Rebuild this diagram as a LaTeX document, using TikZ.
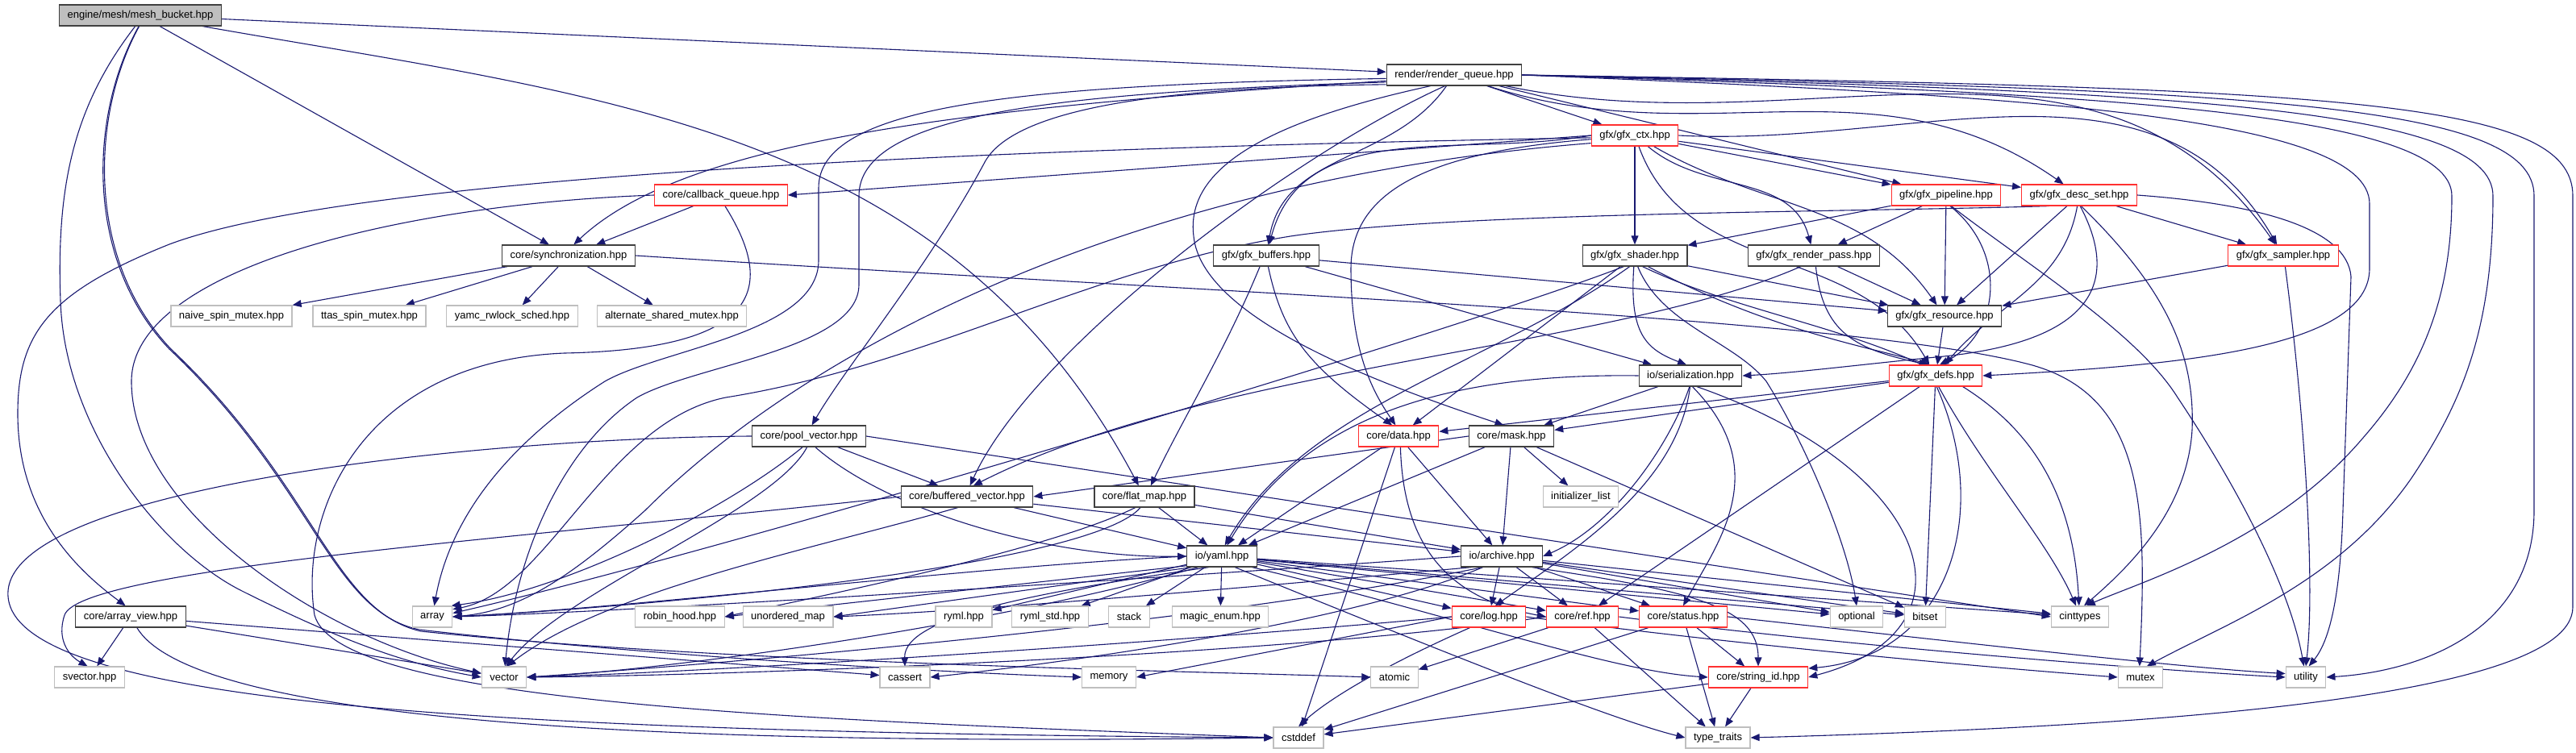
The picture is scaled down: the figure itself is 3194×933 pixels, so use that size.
\documentclass[tikz,border=0pt]{standalone}
\usepackage{fontspec}
\setmainfont{Liberation Sans}
\usetikzlibrary{arrows.meta,backgrounds}
\definecolor{edgec}{HTML}{191970}
\definecolor{bordg}{HTML}{BFBFBF}
\definecolor{bordr}{HTML}{FF3030}
\definecolor{bordk}{HTML}{404040}
\definecolor{fillg}{HTML}{BFBFBF}
\begin{document}
\begin{tikzpicture}[x=0.5pt,y=0.5pt,font=\fontsize{6.5}{7.5}\selectfont,
  box/.style={draw,fill=white,inner xsep=5pt,inner ysep=0pt,minimum height=13pt,line width=0.6pt},
  nk/.style={box,draw=bordk},
  nr/.style={box,draw=bordr},
  ng/.style={box,draw=bordg},
  e/.style={draw=edgec,line width=0.55pt,-{Triangle[length=5.5pt,width=4.4pt]}}]
\useasboundingbox (0,0) rectangle (3194,933);
% nodes
\node[nk,fill=fillg] (MB) at (174,914) {engine/mesh/mesh\_bucket.hpp};
\node[nk] (RQ) at (1803,840) {render/render\_queue.hpp};
\node[nr] (CTX) at (2027,765) {gfx/gfx\_ctx.hpp};
\node[nr] (CBQ) at (894,691) {core/callback\_queue.hpp};
\node[nr] (PIPE) at (2413,691) {gfx/gfx\_pipeline.hpp};
\node[nr] (DESC) at (2578,691) {gfx/gfx\_desc\_set.hpp};
\node[nk] (SYNC) at (705,616) {core/synchronization.hpp};
\node[nk] (BUF) at (1570,616) {gfx/gfx\_buffers.hpp};
\node[nk] (SHAD) at (2027,616) {gfx/gfx\_shader.hpp};
\node[nk] (RP) at (2249,616) {gfx/gfx\_render\_pass.hpp};
\node[nr] (SAMP) at (2831,616) {gfx/gfx\_sampler.hpp};
\node[ng] (NAIVE) at (287,541) {naive\_spin\_mutex.hpp};
\node[ng] (TTAS) at (458,541) {ttas\_spin\_mutex.hpp};
\node[ng] (YAMC) at (635,541) {yamc\_rwlock\_sched.hpp};
\node[ng] (ALT) at (833,541) {alternate\_shared\_mutex.hpp};
\node[nk] (RES) at (2411,541) {gfx/gfx\_resource.hpp};
\node[nk] (SER) at (2096,467) {io/serialization.hpp};
\node[nr] (DEFS) at (2400,467) {gfx/gfx\_defs.hpp};
\node[nk] (POOL) at (1003,392) {core/pool\_vector.hpp};
\node[nr] (DATA) at (1734,392) {core/data.hpp};
\node[nk] (MASK) at (1874,392) {core/mask.hpp};
\node[nk] (BV) at (1199,317) {core/buffered\_vector.hpp};
\node[nk] (FM) at (1419,317) {core/flat\_map.hpp};
\node[ng] (IL) at (1960,317) {initializer\_list};
\node[nk] (YAML) at (1515,243) {io/yaml.hpp};
\node[nk] (ARCH) at (1862,243) {io/archive.hpp};
\node[nk] (AV) at (162,168) {core/array\_view.hpp};
\node[ng] (ARRAY) at (536,168) {array};
\node[ng] (RH) at (843,168) {robin\_hood.hpp};
\node[ng] (UM) at (977,168) {unordered\_map};
\node[ng] (RYML) at (1195,168) {ryml.hpp};
\node[ng] (RYMLSTD) at (1302,168) {ryml\_std.hpp};
\node[ng] (STACK) at (1400,168) {stack};
\node[ng] (MAGIC) at (1513,168) {magic\_enum.hpp};
\node[nr] (LOG) at (1846,168) {core/log.hpp};
\node[nr] (REF) at (1962,168) {core/ref.hpp};
\node[nr] (STATUS) at (2087,168) {core/status.hpp};
\node[ng] (OPT) at (2302,168) {optional};
\node[ng] (BITSET) at (2387,168) {bitset};
\node[ng] (CINT) at (2579,168) {cinttypes};
\node[ng] (SVEC) at (111,93) {svector.hpp};
\node[ng] (VEC) at (625,93) {vector};
\node[ng] (CASSERT) at (1122,93) {cassert};
\node[ng] (MEM) at (1375,93) {memory};
\node[ng] (ATOMIC) at (1729,93) {atomic};
\node[nr] (SID) at (2180,93) {core/string\_id.hpp};
\node[ng] (MUTEX) at (2654,93) {mutex};
\node[ng] (UTIL) at (2859,93) {utility};
\node[ng] (CSTDDEF) at (1610,18) {cstddef};
\node[ng] (TT) at (2130,18) {type\_traits};
\begin{scope}[on background layer]
% mesh_bucket
\draw[e] (MB) -- (RQ);
\draw[e] (MB) -- (SYNC);
\draw[e] (MB) to[out=-10,in=118] (FM);
\draw[e] (MB.245) .. controls (90,800) and (70,700) .. (75,560) .. controls (80,400) and (200,250) .. (300,200) .. controls (420,140) and (500,110) .. (VEC.west);
\draw[e] (MB.262) .. controls (110,790) and (105,610) .. (210,500) .. controls (390,330) and (410,175) .. (520,152) .. controls (800,120) and (1150,100) .. (MEM.west);
\draw[e] (MB.264) .. controls (112,790) and (107,610) .. (212,500) .. controls (392,330) and (412,175) .. (522,150) .. controls (900,110) and (1500,100) .. (ATOMIC.west);
% render_queue
\draw[e] (RQ) -- (CTX);
\draw[e] (RQ) -- (PIPE);
\draw[e] (RQ) to[out=-18,in=145] (DESC);
\draw[e] (RQ) to[out=-12,in=125] (SAMP);
\draw[e] (RQ) to[out=235,in=80] (BUF);
\draw[e] (RQ.185) .. controls (1200,800) and (850,760) .. (SYNC.65);
\draw[e] (RQ.188) .. controls (1400,825) and (1250,790) .. (1220,730) .. controls (1150,600) and (1050,480) .. (POOL.75);
\draw[e] (RQ.230) .. controls (1600,740) and (1280,500) .. (BV.75);
\draw[e] (RQ.183) .. controls (1250,828) and (1015,800) .. (1015,700) -- (1015,610) .. controls (1015,520) and (820,500) .. (750,460) .. controls (640,390) and (560,300) .. (ARRAY.80);
\draw[e] (RQ.186) .. controls (1300,818) and (1065,790) .. (1065,690) -- (1065,580) .. controls (1065,500) and (860,480) .. (790,440) .. controls (700,380) and (640,250) .. (VEC.85);
\draw[e] (RQ.205) .. controls (1560,780) and (1470,720) .. (1480,640) .. controls (1490,540) and (1700,460) .. (MASK.125);
\draw[e] (RQ.east) .. controls (2500,815) and (2938,790) .. (2938,680) -- (2938,600) .. controls (2938,500) and (2700,480) .. (DEFS.east);
\draw[e] (RQ.east) .. controls (2600,818) and (3040,795) .. (3040,690) .. controls (3040,560) and (3000,470) .. (2930,390) .. controls (2820,260) and (2650,210) .. (CINT.60);
\draw[e] (RQ.east) .. controls (2700,820) and (3091,800) .. (3091,690) .. controls (3091,520) and (3050,430) .. (2990,340) .. controls (2900,210) and (2760,160) .. (MUTEX.60);
\draw[e] (RQ.east) .. controls (2800,822) and (3142,805) .. (3142,690) -- (3142,300) .. controls (3142,150) and (3000,100) .. (UTIL.east);
\draw[e] (RQ.east) .. controls (2900,824) and (3190,810) .. (3190,690) -- (3190,180) .. controls (3190,60) and (2600,30) .. (TT.east);
% gfx_ctx
\draw[e] (CTX.west) -- (CBQ.east);
\draw[e] (CTX.183) .. controls (1300,750) and (450,720) .. (210,630) .. controls (60,570) and (22,520) .. (22,420) .. controls (22,300) and (90,230) .. (AV.115);
\draw[e] (CTX) -- (SHAD);
\draw[e] (CTX) to[out=-40,in=105] (RP);
\draw[e] (CTX) -- (PIPE);
\draw[e] (CTX) -- (DESC);
\draw[e] (CTX.east) to[out=-3,in=120] (SAMP);
\draw[e] (CTX.west) to[out=190,in=75] (BUF);
\draw[e] (CTX) to[out=-30,in=125] (RES);
\draw[e] (CTX) to[out=-70,in=120] (DEFS);
\draw[e] (CTX.185) .. controls (1780,745) and (1675,700) .. (1675,600) .. controls (1675,500) and (1700,450) .. (DATA.105);
\draw[e] (CTX.190) .. controls (1400,710) and (1000,500) .. (800,300) .. controls (700,210) and (640,175) .. (ARRAY.east);
% callback_queue
\draw[e] (CBQ) -- (SYNC);
\draw[e] (CBQ.west) .. controls (500,680) and (163,600) .. (163,460) .. controls (163,300) and (400,140) .. (VEC.170);
\draw[e] (CBQ.-70) .. controls (960,580) and (950,500) .. (700,495) .. controls (450,485) and (370,300) .. (390,170) .. controls (420,60) and (1000,40) .. (CSTDDEF.west);
% pipeline
\draw[e] (PIPE) -- (SHAD);
\draw[e] (PIPE) -- (RP);
\draw[e] (PIPE) -- (RES);
\draw[e] (PIPE.-70) .. controls (2490,620) and (2480,520) .. (DEFS.70);
\draw[e] (PIPE.-65) .. controls (2520,600) and (2650,520) .. (2700,440) .. controls (2780,320) and (2840,200) .. (UTIL.100);
% desc_set
\draw[e] (DESC) -- (SAMP);
\draw[e] (DESC) -- (RES);
\draw[e] (DESC) to[out=-100,in=50] (DEFS);
\draw[e] (DESC.-85) .. controls (2620,600) and (2620,510) .. (2400,490) .. controls (2300,480) and (2220,470) .. (SER.east);
\draw[e] (DESC.-80) .. controls (2680,580) and (2722,500) .. (2718,400) .. controls (2712,300) and (2640,230) .. (CINT.70);
\draw[e] (DESC.east) .. controls (2800,680) and (2910,650) .. (2915,590) -- (2905,300) .. controls (2902,200) and (2890,140) .. (UTIL.75);
\draw[e] (DESC.200) .. controls (2300,670) and (1800,670) .. (1600,640) .. controls (1350,600) and (1150,480) .. (900,440) .. controls (750,410) and (680,200) .. (ARRAY.20);
% synchronization
\draw[e] (SYNC) -- (NAIVE);
\draw[e] (SYNC) -- (TTAS);
\draw[e] (SYNC) -- (YAMC);
\draw[e] (SYNC) -- (ALT);
\draw[e] (SYNC.east) .. controls (1500,570) and (2300,540) .. (2520,480) .. controls (2660,440) and (2662,300) .. (MUTEX.95);
% buffers
\draw[e] (BUF) -- (RES);
\draw[e] (BUF) -- (SER);
\draw[e] (BUF.-80) .. controls (1590,520) and (1620,480) .. (DATA.120);
\draw[e] (BUF.-120) .. controls (1520,500) and (1470,420) .. (FM.60);
% shader
\draw[e] (SHAD) -- (RES);
\draw[e] (SHAD.-40) .. controls (2200,520) and (2330,500) .. (DEFS.120);
\draw[e] (SHAD.-95) .. controls (2020,520) and (2040,500) .. (SER.110);
\draw[e] (SHAD) -- (DATA);
\draw[e] (SHAD.-115) .. controls (1850,480) and (1620,430) .. (YAML.75);
\draw[e] (SHAD.-135) .. controls (1800,520) and (900,250) .. (ARRAY.10);
\draw[e] (SHAD.-75) .. controls (2060,530) and (2150,510) .. (2190,460) .. controls (2240,380) and (2290,260) .. (OPT.north);
\draw[e] (SHAD.-55) .. controls (2250,500) and (2560,520) .. (CINT.95);
% render_pass
\draw[e] (RP) -- (RES);
\draw[e] (RP.-80) .. controls (2260,520) and (2300,500) .. (DEFS.125);
\draw[e] (RP.-140) .. controls (2000,500) and (1500,480) .. (BV.60);
% sampler
\draw[e] (SAMP) -- (RES);
\draw[e] (SAMP.-80) .. controls (2860,400) and (2870,200) .. (UTIL.90);
% resource
\draw[e] (RES) -- (DEFS);
% serialization
\draw[e] (SER) -- (MASK);
\draw[e] (SER.west) .. controls (1800,470) and (1620,420) .. (YAML.65);
\draw[e] (SER.-95) .. controls (2070,380) and (2000,280) .. (ARCH.east);
\draw[e] (SER.-92) .. controls (2080,330) and (1950,250) .. (LOG.60);
\draw[e] (SER.-80) .. controls (2200,350) and (2130,260) .. (STATUS.north);
\draw[e] (SER.-60) .. controls (2400,350) and (2460,150) .. (SID.east);
% defs
\draw[e] (DEFS) -- (MASK);
\draw[e] (DEFS) -- (DATA);
\draw[e] (DEFS) -- (BITSET);
\draw[e] (DEFS.-75) .. controls (2460,350) and (2540,260) .. (CINT.110);
\draw[e] (DEFS.-85) .. controls (2470,300) and (2420,120) .. (SID.10);
\draw[e] (DEFS) -- (REF);
% mask
\draw[e] (MASK) -- (YAML);
\draw[e] (MASK) -- (ARCH);
\draw[e] (MASK) -- (IL);
\draw[e] (MASK) -- (BITSET);
\draw[e] (MASK.west) -- (BV.east);
% data
\draw[e] (DATA) -- (YAML);
\draw[e] (DATA) -- (ARCH);
\draw[e] (DATA) -- (CSTDDEF);
\draw[e] (DATA.-80) .. controls (1740,250) and (1800,190) .. (REF.west);
% pool_vector
\draw[e] (POOL) -- (BV);
\draw[e] (POOL.-60) .. controls (1100,300) and (1300,240) .. (YAML.west);
\draw[e] (POOL.-120) .. controls (900,300) and (700,200) .. (ARRAY.30);
\draw[e] (POOL.-100) .. controls (960,300) and (700,200) .. (VEC.80);
\draw[e] (POOL.west) .. controls (600,390) and (20,330) .. (10,200) .. controls (0,60) and (600,25) .. (CSTDDEF.west);
\draw[e] (POOL.east) -- (CINT.west);
% buffered_vector
\draw[e] (BV) -- (YAML);
\draw[e] (BV) -- (ARCH);
\draw[e] (BV.west) .. controls (700,270) and (100,230) .. (80,170) .. controls (70,140) and (85,120) .. (SVEC.100);
\draw[e] (BV.-130) .. controls (1000,250) and (750,200) .. (VEC.75);
% flat_map
\draw[e] (FM) -- (YAML);
\draw[e] (FM) -- (ARCH);
\draw[e] (FM.-130) .. controls (1300,250) and (1000,190) .. (RH.east);
\draw[e] (FM.-110) .. controls (1350,230) and (800,180) .. (ARRAY.east);
% yaml
\draw[e] (YAML.west) .. controls (1200,230) and (800,180) .. (ARRAY.east);
\draw[e] (YAML.195) -- (RH.east);
\draw[e] (YAML.200) -- (UM.east);
\draw[e] (YAML) -- (RYML);
\draw[e] (YAML) -- (RYMLSTD);
\draw[e] (YAML) -- (STACK);
\draw[e] (YAML) -- (MAGIC);
\draw[e] (YAML.205) .. controls (1200,150) and (800,100) .. (VEC.east);
\draw[e] (YAML.220) .. controls (1300,200) and (1120,170) .. (CASSERT.north);
\draw[e] (YAML) -- (LOG);
\draw[e] (YAML) -- (REF);
\draw[e] (YAML) -- (STATUS);
\draw[e] (YAML) -- (OPT);
\draw[e] (YAML) -- (BITSET);
\draw[e] (YAML) -- (CINT);
\draw[e] (YAML.-20) .. controls (1800,170) and (2000,100) .. (SID.west);
\draw[e] (YAML.-40) .. controls (1800,120) and (2000,40) .. (TT.west);
% archive
\draw[e] (ARCH.west) .. controls (1500,220) and (800,175) .. (ARRAY.east);
\draw[e] (ARCH.200) .. controls (1500,200) and (1200,175) .. (UM.east);
\draw[e] (ARCH.-150) .. controls (1700,170) and (1400,120) .. (CASSERT.east);
\draw[e] (ARCH) -- (LOG);
\draw[e] (ARCH) -- (REF);
\draw[e] (ARCH) -- (STATUS);
\draw[e] (ARCH) -- (OPT);
\draw[e] (ARCH) -- (BITSET);
\draw[e] (ARCH) -- (CINT);
\draw[e] (ARCH.-20) .. controls (2100,200) and (2180,180) .. (SID.north);
\draw[e] (ARCH.210) .. controls (1500,160) and (900,110) .. (VEC.east);
% log
\draw[e] (LOG.west) .. controls (1500,140) and (900,100) .. (VEC.east);
\draw[e] (LOG.-150) .. controls (1700,100) and (1640,60) .. (CSTDDEF.north);
\draw[e] (LOG.west) -- (MEM.east);
\draw[e] (LOG.east) .. controls (2100,140) and (2400,110) .. (MUTEX.west);
% ref
\draw[e] (REF) -- (ATOMIC);
\draw[e] (REF) -- (TT);
\draw[e] (REF.west) .. controls (1600,120) and (900,95) .. (VEC.east);
\draw[e] (REF.east) .. controls (2300,130) and (2700,100) .. (UTIL.west);
% status
\draw[e] (STATUS) -- (CSTDDEF);
\draw[e] (STATUS) -- (TT);
\draw[e] (STATUS) -- (SID);
\draw[e] (STATUS.east) .. controls (2400,140) and (2700,105) .. (UTIL.170);
% string_id
\draw[e] (SID) -- (CSTDDEF);
\draw[e] (SID) -- (TT);
% array_view
\draw[e] (AV) -- (SVEC);
\draw[e] (AV) -- (VEC);
\draw[e] (AV) -- (CASSERT);
\draw[e] (AV.-60) .. controls (250,20) and (1000,10) .. (CSTDDEF.west);
\end{scope}
\end{tikzpicture}
\end{document}
